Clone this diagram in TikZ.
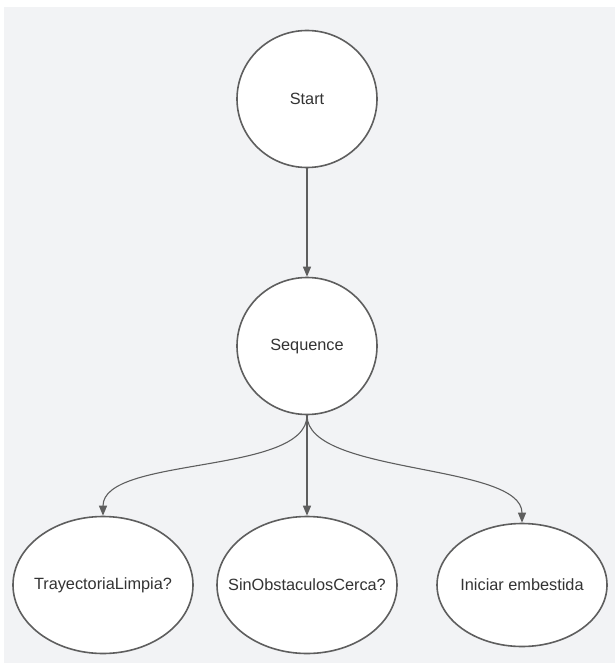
\documentclass[tikz,border=0pt]{standalone}
\usepackage{fontspec}
\setmainfont{Liberation Sans}
\usetikzlibrary{shapes.geometric,arrows.meta}
\definecolor{panel}{HTML}{F2F3F5}
\definecolor{edge}{HTML}{5E5E5E}
\definecolor{label}{HTML}{333333}
\tikzset{
  every picture/.style={x=1pt,y=-1pt},
  txt/.style={text=label,font=\fontsize{16.3}{19}\selectfont},
  % the outline is sized by the given dimensions only; the text sits on top
  state/.style={ellipse,draw=edge,line width=1.6pt,fill=white,inner sep=0pt,
    label={[txt]center:#1}},
  link/.style={draw=edge,line width=1.1pt,
    -{Triangle[length=10pt,width=8pt]}},
}
\begin{document}
\begin{tikzpicture}
  \useasboundingbox (0,0) rectangle (615,663);
  \fill[white] (0,0) rectangle (615,663);
  \fill[panel] (4,7) rectangle (615,663);

  \node[state=Start,minimum width=140pt,minimum height=137pt] (start) at (307,99) {};
  \node[state=Sequence,minimum width=140pt,minimum height=137pt] (seq) at (307,346) {};
  \node[state=TrayectoriaLimpia?,minimum width=180pt,minimum height=137pt] (tray) at (103,585) {};
  \node[state=SinObstaculosCerca?,minimum width=180pt,minimum height=137pt] (obst) at (307,585) {};
  \node[state=Iniciar embestida,minimum width=170pt,minimum height=123pt] (emb) at (522,585) {};

  \draw[link] (start.south) -- (seq.north);
  \draw[link] (seq.south) -- (obst.north);
  \draw[link] (seq.south) .. controls ++(0,60) and ([yshift=60pt]tray.north) .. (tray.north);
  \draw[link] (seq.south) .. controls ++(0,60) and ([yshift=60pt]emb.north) .. (emb.north);
\end{tikzpicture}
\end{document}
